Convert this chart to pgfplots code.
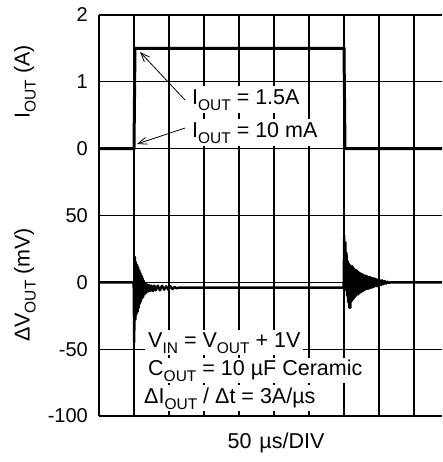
\documentclass[border=0pt]{standalone}
\usepackage{pgfplots}
\pgfplotsset{compat=1.18}
\usepackage{fontspec}
\setmainfont{Liberation Sans}
\usetikzlibrary{arrows.meta}
\newcommand{\sub}[1]{\raisebox{-6pt}{\fontsize{15.5}{15.5}\selectfont #1}}
\newcommand{\ft}{\fontsize{21.5}{25}\selectfont}
\begin{document}
\begin{tikzpicture}
\pgfplotsset{base/.style={scale only axis, width=343pt, height=401pt, xmin=0, xmax=490,
  major tick length=0pt, /pgf/number format/assume math mode=true,
  tick label style={font=\fontsize{20}{20}\selectfont},
  yticklabel style={inner sep=0pt, xshift=-11pt},
  axis line style={draw=none},
  every axis y label/.style={rotate=90, anchor=center, font=\ft},
  every axis x label/.style={anchor=center, font=\ft}}}
% ---------------- voltage axis (mV) ----------------
\begin{axis}[base, ymin=-100, ymax=200, ytick={-100,-50,0,50,100,150,200},
  yticklabels={-100,-50,0,50,{},{},{}},
  xtick={0,50,100,150,200,250,300,350,400,450},
  xticklabels={{},{},{},{},{},{},{},{},{},{}},
  grid=major, grid style={black, line width=1.2pt},
  ylabel={ΔV\sub{OUT} (mV)},
  ylabel style={at={(axis description cs:-0.2157,0.327)}},
  xlabel={50\hspace{8pt}µs/DIV},
  xlabel style={at={(axis description cs:0.516,0)}, yshift=-27pt}]
\addplot[black, line width=2.4pt, line join=round] coordinates {
(0,0) (49.5,0) (50.3,-45) (51.2,19) (52,-28) (52.8,15) (53.6,-24) (54.4,13) (55.2,-22)
(56,11) (56.8,-19) (57.6,9) (58.4,-16) (59.2,7) (60,-14) (60.8,5) (61.6,-12) (62.4,3)
(63.2,-11) (64,1) (65,-9) (66,-1) (67,-8) (68.5,-1.5) (70,-7) (71.5,-2) (73,-6.5) (75,-2.5)
(77,-6.5) (79,-2.5) (81,-6) (84,-2.5) (87,-6) (90,-2.5) (93,-5.5) (96,-3) (99,-5.5)
(102,-3) (105,-5) (108,-3.5) (111,-4.5) (114,-4) (349.5,-4)
(350.3,35) (351.2,0) (352,30) (352.8,-6) (353.6,22) (354.4,-10) (355.2,16) (356,-15)
(356.8,14) (357.6,-19) (358.4,13) (359.2,-19) (360,12) (360.8,-14) (361.6,12) (362.4,-13)
(363.2,11) (364,-12) (364.8,10) (365.6,-11) (366.4,9) (367.2,-10) (368,9) (368.8,-9)
(369.6,8) (370.4,-9) (371.2,7.5) (372,-8) (372.8,7) (373.6,-7.5) (374.4,6.5) (375.2,-7)
(376,6) (376.8,-6.5) (377.6,5.5) (378.4,-6) (379.2,5) (380,-5.5) (381,5) (382,-5)
(383,4.5) (384,-5) (385,4) (386,-4.5) (387,4) (388,-4) (389,3.5) (390,-4) (391,3)
(392,-3.5) (393,3) (394,-3) (395.5,2.5) (397,-3) (398.5,2) (400,-2.5) (401.5,1.5)
(403,-2) (404.5,1.5) (406,-1.5) (408,1) (410,-1) (412,0.5) (414,-0.5) (416,0) (490,0)};
\node[fill=white, inner xsep=3pt, inner ysep=2pt, anchor=base west, font=\ft] at (axis cs:65.7,-48.4) {V\sub{IN} = V\sub{OUT} + 1V};
\node[fill=white, inner xsep=3pt, inner ysep=2pt, anchor=base west, font=\ft] at (axis cs:65.7,-69.4) {C\sub{OUT} = 10 µF Ceramic};
\node[fill=white, inner xsep=3pt, inner ysep=2pt, anchor=base west, font=\ft] at (axis cs:60,-90.3) {ΔI\sub{OUT} / Δt = 3A/µs};
\end{axis}
% ---------------- current axis (A) ----------------
\begin{axis}[base, ymin=-4, ymax=2, ytick={0,1,2}, yticklabels={0,1,2}, xtick=\empty,
  ylabel={I\sub{OUT} (A)},
  ylabel style={at={(axis description cs:-0.2157,0.833)}}]
\addplot[black, line width=3pt] coordinates {(0,0) (50,0) (51.4,1.5) (350,1.5) (351.4,0) (490,0)};
\node[fill=white, inner xsep=4pt, inner ysep=3pt, anchor=base west, font=\ft] at (axis cs:127,0.668) {I\sub{OUT} = 1.5A};
\node[fill=white, inner xsep=4pt, inner ysep=3pt, anchor=base west, font=\ft] at (axis cs:127,0.174) {I\sub{OUT} = 10 mA};
\draw[-{Straight Barb[length=9pt,width=7pt]}, line width=0.8pt] (axis cs:122.9,0.728) -- (axis cs:58.6,1.446);
\draw[-{Straight Barb[length=9pt,width=7pt]}, line width=0.8pt] (axis cs:122.9,0.309) -- (axis cs:54.3,0.07);
\end{axis}
\pgfresetboundingbox
\useasboundingbox (-99pt,-46pt) rectangle (343pt,416pt);
\end{tikzpicture}
\end{document}
